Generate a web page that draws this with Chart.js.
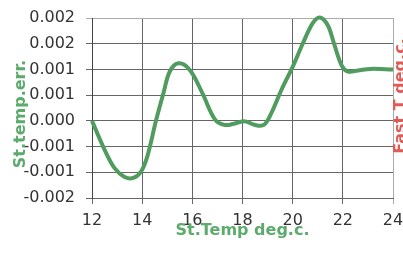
<!DOCTYPE html>
<html>
<head>
<meta charset="utf-8">
<script src="https://cdn.jsdelivr.net/npm/chart.js@4/dist/chart.umd.min.js"></script>
<style>
  html, body { margin: 0; padding: 0; background: #fff; }
  canvas { display: block; }
</style>
</head>
<body>
<canvas id="errChart" width="403" height="254"></canvas>
<script>
// St.Temp (deg.c.) vs St.temp.err.
const temps = [12, 12.5, 12.9, 13.3, 13.65, 13.95, 14.2, 14.55, 14.85, 15.1, 15.45, 15.9, 16.4, 16.9,
  17.3, 17.7, 18.1, 18.5, 18.85, 19.15, 19.55, 20.0, 20.4, 20.8, 21.08, 21.4, 21.65, 21.95, 22.2, 22.6, 23.1, 24];
const errs = [0, -0.00056, -0.00092, -0.00109, -0.00111, -0.00099, -0.0007, 0.0, 0.00054, 0.00096, 0.00112, 0.00099, 0.00054, 0.00003,
  -0.00008, -0.00005, -0.00001, -0.00008, -0.00008, 0.00015, 0.0006, 0.00105, 0.0015, 0.0019, 0.00201, 0.00186, 0.0015, 0.00108, 0.00096, 0.00098, 0.00101, 0.001];

const xTicks = { min: 12, max: 24, step: 2 };
const yTicks = { min: -0.0015, max: 0.002, step: 0.0005 };

const titles = { x: 'St.Temp deg.c.', y: 'St.temp.err.', y2: 'Fast T deg.c.' };

document.addEventListener('DOMContentLoaded', function(){
  const green = '#4f9c5e';
  const titleGreen = '#5cab6c';
  const red = '#e25a55';
  const gridCol = '#666';
  const edgeCol = '#aaa';

  function fmt3(v){
    const a = Math.round(Math.abs(v) * 1000 + 1e-9) / 1000;
    return (v < -1e-12 ? '-' : '') + a.toFixed(3);
  }

  // axis titles drawn by hand so they can sit where the scan has them
  const axisTitles = {
    id: 'axisTitles',
    afterDraw(chart){
      const c = chart.ctx;
      const area = chart.chartArea;
      c.save();
      c.font = 'bold 16px "DejaVu Sans"';
      c.textAlign = 'center';
      c.textBaseline = 'alphabetic';

      c.fillStyle = titleGreen;
      c.fillText(titles.x, (area.left + area.right) / 2, 235);

      c.save();
      c.translate(25, 114);
      c.rotate(-Math.PI / 2);
      c.fillText(titles.y, 0, 0);
      c.restore();

      c.save();
      c.fillStyle = red;
      c.translate(area.right + 12, 96);
      c.rotate(-Math.PI / 2);
      c.fillText(titles.y2, 0, 0);
      c.restore();

      c.restore();
    }
  };

  const points = temps.map((t, i) => ({ x: t, y: errs[i] }));

  new Chart(document.getElementById('errChart').getContext('2d'), {
    type: 'line',
    data: {
      datasets: [{
        data: points,
        borderColor: green,
        borderWidth: 4,
        pointRadius: 0,
        fill: false,
        tension: 0.35,
        clip: 6
      }]
    },
    options: {
      responsive: false,
      animation: false,
      devicePixelRatio: 1,
      layout: { padding: { top: 18, right: 10, left: 0, bottom: 0 } },
      plugins: { legend: { display: false }, tooltip: { enabled: false } },
      scales: {
        x: {
          type: 'linear',
          min: xTicks.min, max: xTicks.max,
          afterFit: s => { s.height = 56; s.paddingLeft = 0; s.paddingRight = 0; },
          ticks: {
            stepSize: xTicks.step,
            color: '#333',
            padding: 7,
            font: { family: 'DejaVu Sans', size: 16 },
            maxRotation: 0
          },
          grid: {
            color: ctx => (ctx.tick && ctx.tick.value === xTicks.max) ? edgeCol : gridCol,
            tickLength: 6
          },
          border: { color: gridCol }
        },
        y: {
          min: yTicks.min, max: yTicks.max,
          afterFit: s => { s.width = 92; s.paddingTop = 0; s.paddingBottom = 0; },
          ticks: {
            stepSize: yTicks.step,
            color: '#333',
            padding: 11,
            font: { family: 'DejaVu Sans', size: 16 },
            callback: v => fmt3(v)
          },
          grid: {
            color: ctx => (ctx.tick && Math.abs(ctx.tick.value - yTicks.max) < 1e-9) ? edgeCol : gridCol,
            tickLength: 6
          },
          border: { color: '#444' }
        }
      }
    },
    plugins: [axisTitles]
  });
});
</script>
</body>
</html>
